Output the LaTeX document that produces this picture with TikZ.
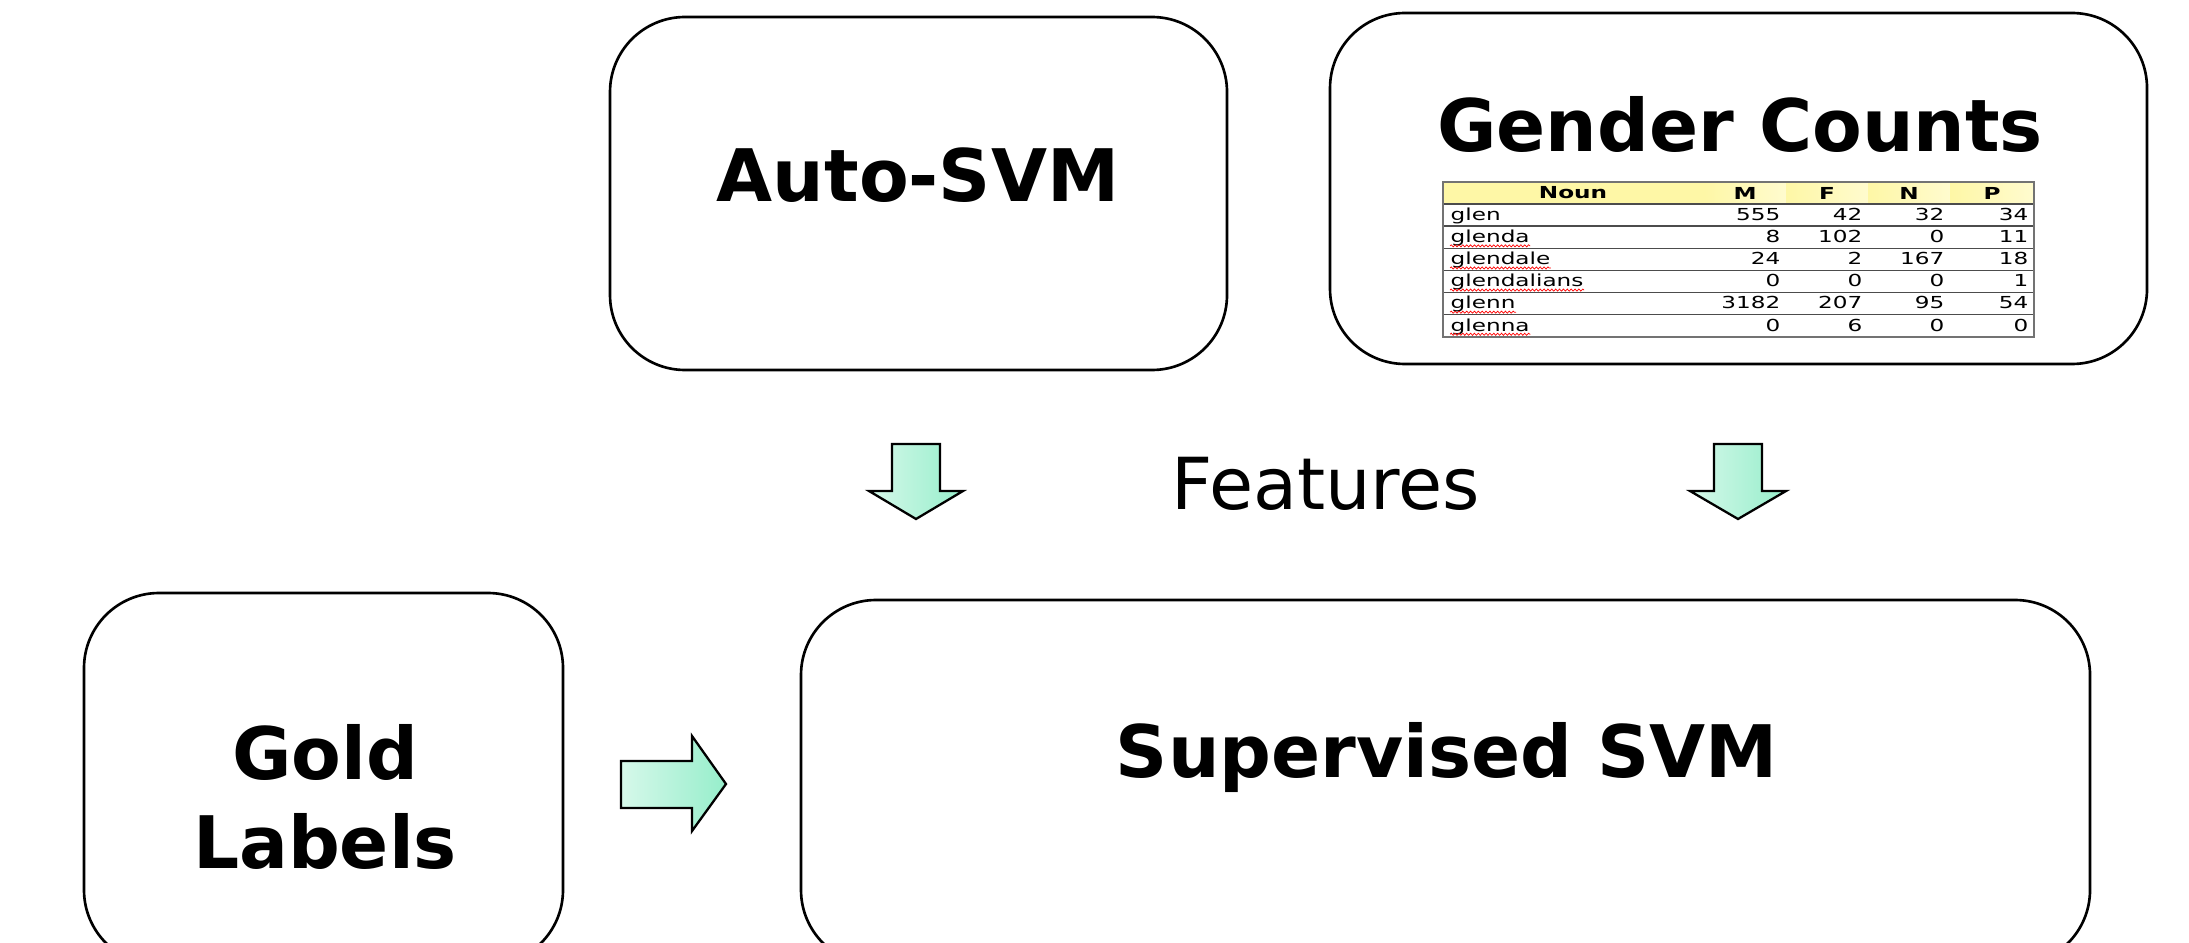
\documentclass[tikz,border=0pt]{standalone}
\usepackage{fontspec}
\setmainfont{DejaVu Sans}
\usetikzlibrary{decorations.pathmorphing}

\definecolor{mintlt}{HTML}{D6F8EA}
\definecolor{mintdk}{HTML}{96EECB}
\definecolor{hdryellow}{HTML}{FEF7A6}
\definecolor{hdrpale}{HTML}{FFFBCF}

\newcommand{\tcell}[1]{\scalebox{1.4}[1]{#1}}

\tikzset{
  box/.style={draw, line width=0.75pt, rounded corners=0.75cm},
  title/.style={inner sep=0pt, font=\fontsize{20.6}{25.3}\selectfont\bfseries},
  plain/.style={inner sep=0pt, font=\fontsize{20.4}{25}\selectfont},
  blockarrow/.style={draw, line width=0.65pt, left color=mintlt, right color=mintdk},
  cell/.style={inner sep=0pt, font=\fontsize{4.7}{5.5}\selectfont},
  hcell/.style={cell, font=\fontsize{4.7}{5.5}\selectfont\bfseries},
  rowline/.style={draw=black!70, line width=0.45pt},
  squiggle/.style={draw=red, line width=0.2pt, decorate,
    decoration={snake, amplitude=0.3pt, segment length=1.1pt}}
}

\begin{document}
\begin{tikzpicture}[x=0.01cm, y=-0.01cm]
  \useasboundingbox (0,0) rectangle (2189,943);
  \clip (0,0) rectangle (2189,943);

  % upper boxes
  \draw[box] (610,17) rectangle (1227,370);
  \node[title] (auto) at (918,175) {Auto-SVM};

  \draw[box] (1330,13) rectangle (2147,364);
  \node[title] (gender) at (1740,124) {Gender Counts};

  % counts table
  \fill[hdryellow] (1443,182) rectangle (1704,204);
  \foreach \c in {1704,1786,1868,1950}
    \shade[left color=hdryellow, right color=hdrpale] (\c,182) rectangle ({\c+84},204);
  \node[hcell] (hnoun) at (1573,193) {\tcell{Noun}};
  \node[hcell] (hm) at (1745,193) {\tcell{M}};
  \node[hcell] (hf) at (1827,193) {\tcell{F}};
  \node[hcell] (hn) at (1909,193) {\tcell{N}};
  \node[hcell] (hp) at (1992,193) {\tcell{P}};
  \foreach \k in {1,...,6}
    \draw[rowline] (1443,{182+22.1*\k}) -- (2034,{182+22.1*\k});
  \draw[draw=black!55, line width=0.6pt] (1443,182) rectangle (2034,337);

  \foreach \w/\m/\f/\n/\p [count=\i] in {glen/555/42/32/34, glenda/8/102/0/11,
      glendale/24/2/167/18, glendalians/0/0/0/1, glenn/3182/207/95/54, glenna/0/6/0/0} {
    \node[cell, anchor=base west] (w\i) at (1450,{198.5+22.1*\i}) {\tcell{\w}};
    \node[cell, anchor=base east] (m\i) at (1781,{198.5+22.1*\i}) {\tcell{\m}};
    \node[cell, anchor=base east] (f\i) at (1863,{198.5+22.1*\i}) {\tcell{\f}};
    \node[cell, anchor=base east] (n\i) at (1945,{198.5+22.1*\i}) {\tcell{\n}};
    \node[cell, anchor=base east] (p\i) at (2029,{198.5+22.1*\i}) {\tcell{\p}};
    \ifnum\i>1
      \draw[squiggle] ([yshift=-0.9pt]w\i.base west) -- ([yshift=-0.9pt]w\i.base east);
    \fi
  }

  % feature arrows
  \draw[blockarrow] (892,444) -- (940,444) -- (940,491) -- (963,491) -- (916,519)
    -- (869,491) -- (892,491) -- cycle;
  \draw[blockarrow] (1714,444) -- (1762,444) -- (1762,491) -- (1786,491) -- (1738,519)
    -- (1690,491) -- (1714,491) -- cycle;
  \node[plain] (feat) at (1326,484) {Features};

  % lower boxes
  \draw[box] (84,593) rectangle (563,965);
  \node[title, align=center] (gold) at (325,797) {Gold\\Labels};

  \draw[blockarrow] (621,761) -- (692,761) -- (692,736) -- (726,784) -- (692,831)
    -- (692,808) -- (621,808) -- cycle;

  \draw[box] (801,600) rectangle (2090,965);
  \node[title] (super) at (1447,758) {Supervised SVM};
\end{tikzpicture}
\end{document}
